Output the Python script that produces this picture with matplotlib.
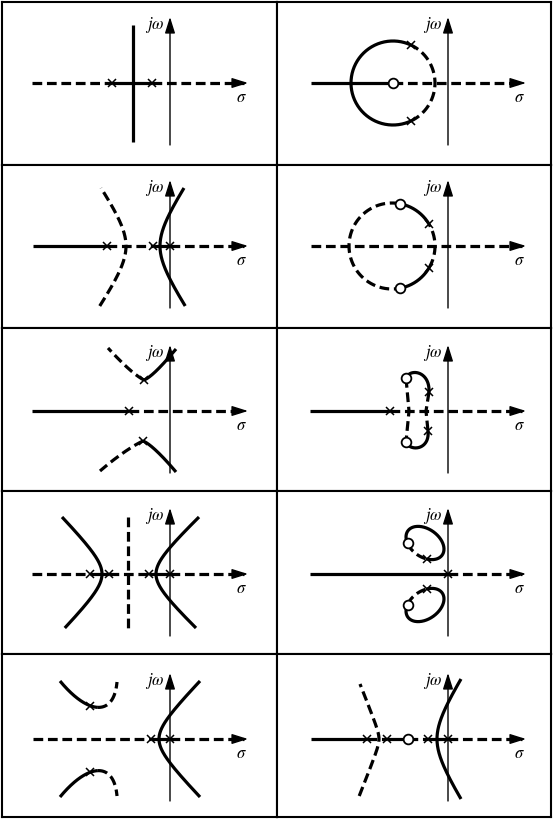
import numpy as np
import matplotlib
matplotlib.use('Agg')
import matplotlib.pyplot as plt

plt.rcParams['mathtext.fontset'] = 'stix'
plt.rcParams['lines.scale_dashes'] = False

W, H = 554, 825
COL_EDGES = [2, 277, 551]
ROW_EDGES = [2, 165, 328, 491, 654, 817]
ORIGIN_X = [170, 448]
ORIGIN_Y = [83, 246, 411, 574, 739]

# panels numbered row by row (0 1 / 2 3 / ...), units are sigma / omega
POLES = [
    [(-58, 0), (-18, 0)],
    [(-37, 38), (-37, -38)],
    [(-63, 0), (-17, 0), (0, 0)],
    [(-19, 22), (-19, -22)],
    [(-41, 0), (-26, 31), (-27, -30)],
    [(-58, 0), (-19, 19), (-20, -20)],
    [(-80, 0), (-61, 0), (-21, 0), (0, 0)],
    [(0, 0), (-21, 15), (-21, -15)],
    [(-19, 0), (0, 0), (-80, 33), (-80, -33)],
    [(-81, 0), (-61, 0), (-20, 0), (0, 0)],
]
ZEROS = [
    [],
    [(-55, 0)],
    [],
    [(-48, 42), (-48, -42)],
    [],
    [(-42, 33), (-42, -31)],
    [],
    [(-40, 31), (-40, -31)],
    [],
    [(-40, 0)],
]

# pieces of the real axis (from sigma, to sigma)
AXIS_SOLID = [
    [(-58, -18)],
    [(-137, -55)],
    [(-137, -63), (-17, 0)],
    [],
    [(-138, -41)],
    [(-138, -58)],
    [(-80, -61), (-21, 0)],
    [(-138, 0)],
    [(-19, 0)],
    [(-137, -81), (-61, -40), (-20, 0)],
]
AXIS_DASHED = [
    [(-138, -58), (-18, 74)],
    [(-55, 74)],
    [(-63, -17), (0, 74)],
    [(-137, 74)],
    [(-41, 74)],
    [(-58, 74)],
    [(-138, -80), (-61, -21), (0, 74)],
    [(0, 74)],
    [(-137, -19), (0, 74)],
    [(-81, -61), (-40, -20), (0, 74)],
]

# hyperbola branches: panel, vertex sigma, tip sigma, tip omega, lowest omega, bend, style
HYPERBOLAS = [
    (2, -44, -69, 58, -60, 30, '--'),
    (2, -10, 14, 58, -60, 30, '-'),
    (6, -68, -108, 57, -54, 20, '-'),
    (6, -14, 29, 57, -54, 20, '-'),
    (8, -11, 30, 58, -58, 20, '-'),
    (9, -69, -88, 55, -57, 8, '--'),
    (9, -11, 13, 60, -60, 30, '-'),
]

# circle arcs: panel, centre sigma, radius, start deg, end deg, style
CIRCLE_ARCS = [
    (1, -55, 42, 65, 295, '-'),
    (1, -55, 42, -65, 65, '--'),
    (3, -56, 43, 31, 80, '-'),
    (3, -56, 43, -80, -31, '-'),
    (3, -56, 43, 80, 280, '--'),
    (3, -56, 43, -31, 31, '--'),
]

# tilted loops (drawn with their mirror image): panel, centre, a, b, tilt, t0, t1, style
ELLIPSE_ARCS = [
    (7, (-23, 31), 21, 14, -35, -60, 228, '-'),
    (7, (-23, 31), 21, 14, -35, 228, 300, '--'),
]

# cubic curves: panel, control points, t0, t1, style
UPPER_LEFT_9 = [(-110, 58), (-82, 24), (-56, 22), (-53, 57)]
LOWER_LEFT_9 = [(-110, -58), (-82, -24), (-56, -22), (-53, -57)]
BEZIERS = [
    (4, [(-26, 31), (-18, 34), (-4, 50), (6, 62)], 0, 1, '-'),
    (4, [(-26, 31), (-36, 36), (-50, 50), (-62, 63)], 0, 1, '--'),
    (4, [(-27, -30), (-19, -33), (-4, -49), (6, -61)], 0, 1, '-'),
    (4, [(-27, -30), (-38, -35), (-55, -47), (-70, -60)], 0, 1, '--'),
    (5, [(-42, 33), (-38, 43), (-18, 40), (-19, 19)], 0, 1, '-'),
    (5, [(-42, -31), (-38, -41), (-18, -39), (-20, -20)], 0, 1, '-'),
    (8, UPPER_LEFT_9, 0, 0.5, '-'),
    (8, UPPER_LEFT_9, 0.5, 1, '--'),
    (8, LOWER_LEFT_9, 0, 0.5, '-'),
    (8, LOWER_LEFT_9, 0.5, 1, '--'),
]

# straight locus pieces: panel, points, style
POLYLINES = [
    (0, [(-37, 58), (-37, -59)], '-'),
    (6, [(-42, 57), (-42, -56)], '--'),
    (5, [(-42, 33), (-39, 0), (-42, -31)], '--'),
    (5, [(-19, 19), (-22, 0), (-20, -20)], '--'),
]

JW_RANGE = (-62, 66)
SIGMA_TIP = 78

LW = 2.3
DASH = (7.0, 3.4)


def locus(ax, s, w, style):
    if style == '--':
        ax.plot(s, w, color='k', lw=LW, dashes=DASH, dash_capstyle='butt')
    else:
        ax.plot(s, w, color='k', lw=LW, solid_capstyle='butt')


fig = plt.figure(figsize=(W / 100, H / 100), dpi=100)
axes = []
for i in range(10):
    r, c = divmod(i, 2)
    x0, x1 = COL_EDGES[c], COL_EDGES[c + 1]
    y0, y1 = ROW_EDGES[r], ROW_EDGES[r + 1]
    ox, oy = ORIGIN_X[c], ORIGIN_Y[r]
    ax = fig.add_axes([x0 / W, 1 - y1 / H, (x1 - x0) / W, (y1 - y0) / H])
    ax.set_xlim(x0 - ox, x1 - ox)
    ax.set_ylim(oy - y1, oy - y0)
    ax.set_xticks([])
    ax.set_yticks([])
    for sp in ax.spines.values():
        sp.set_linewidth(1.5)
    axes.append(ax)

    # real axis locus pieces
    for a, b in AXIS_SOLID[i]:
        locus(ax, [a, b], [0, 0], '-')
    for a, b in AXIS_DASHED[i]:
        locus(ax, [a, b], [0, 0], '--')

    # coordinate axes
    ax.annotate('', xy=(0, JW_RANGE[1]), xytext=(0, JW_RANGE[0]),
                arrowprops=dict(arrowstyle='-|>,head_length=0.7,head_width=0.22',
                                lw=1.0, color='k', mutation_scale=14,
                                shrinkA=0, shrinkB=0))
    ax.annotate('', xy=(SIGMA_TIP, 0), xytext=(SIGMA_TIP - 10, 0),
                arrowprops=dict(arrowstyle='-|>,head_length=0.7,head_width=0.22',
                                lw=1.0, color='k', mutation_scale=14,
                                shrinkA=0, shrinkB=0))
    ax.text(-5, 58, r'$j\omega$', fontsize=12, ha='right', va='center')
    ax.text(SIGMA_TIP - 7, -14, r'$\sigma$', fontsize=12, ha='center', va='center')

for p, v, ts, tw, wlo, bend, style in HYPERBOLAS:
    k = (ts - v) / (np.sqrt(bend ** 2 + tw ** 2) - bend)
    w = np.linspace(wlo, tw, 200)
    s = v + k * (np.sqrt(bend ** 2 + w ** 2) - bend)
    locus(axes[p], s, w, style)

for p, cs, rad, a0, a1, style in CIRCLE_ARCS:
    t = np.radians(np.linspace(a0, a1, 200))
    locus(axes[p], cs + rad * np.cos(t), rad * np.sin(t), style)

for p, (cs, cw), a, b, tilt, t0, t1, style in ELLIPSE_ARCS:
    t = np.radians(np.linspace(t0, t1, 200))
    th = np.radians(tilt)
    s = cs + a * np.cos(t) * np.cos(th) - b * np.sin(t) * np.sin(th)
    w = cw + a * np.cos(t) * np.sin(th) + b * np.sin(t) * np.cos(th)
    locus(axes[p], s, w, style)
    locus(axes[p], s, -w, style)

for p, ctrl, t0, t1, style in BEZIERS:
    P = np.array(ctrl, dtype=float)
    t = np.linspace(t0, t1, 150)[:, None]
    B = ((1 - t) ** 3 * P[0] + 3 * (1 - t) ** 2 * t * P[1]
         + 3 * (1 - t) * t ** 2 * P[2] + t ** 3 * P[3])
    locus(axes[p], B[:, 0], B[:, 1], style)

for p, pts, style in POLYLINES:
    pts = np.array(pts)
    locus(axes[p], pts[:, 0], pts[:, 1], style)

for i, ax in enumerate(axes):
    if POLES[i]:
        pp = np.array(POLES[i])
        ax.plot(pp[:, 0], pp[:, 1], 'x', color='k', ms=5.5, mew=1.1, zorder=5)
    if ZEROS[i]:
        zz = np.array(ZEROS[i])
        ax.plot(zz[:, 0], zz[:, 1], 'o', mfc='white', mec='k', ms=7, mew=1.3, zorder=6)

fig.savefig('out.png', dpi=100)
